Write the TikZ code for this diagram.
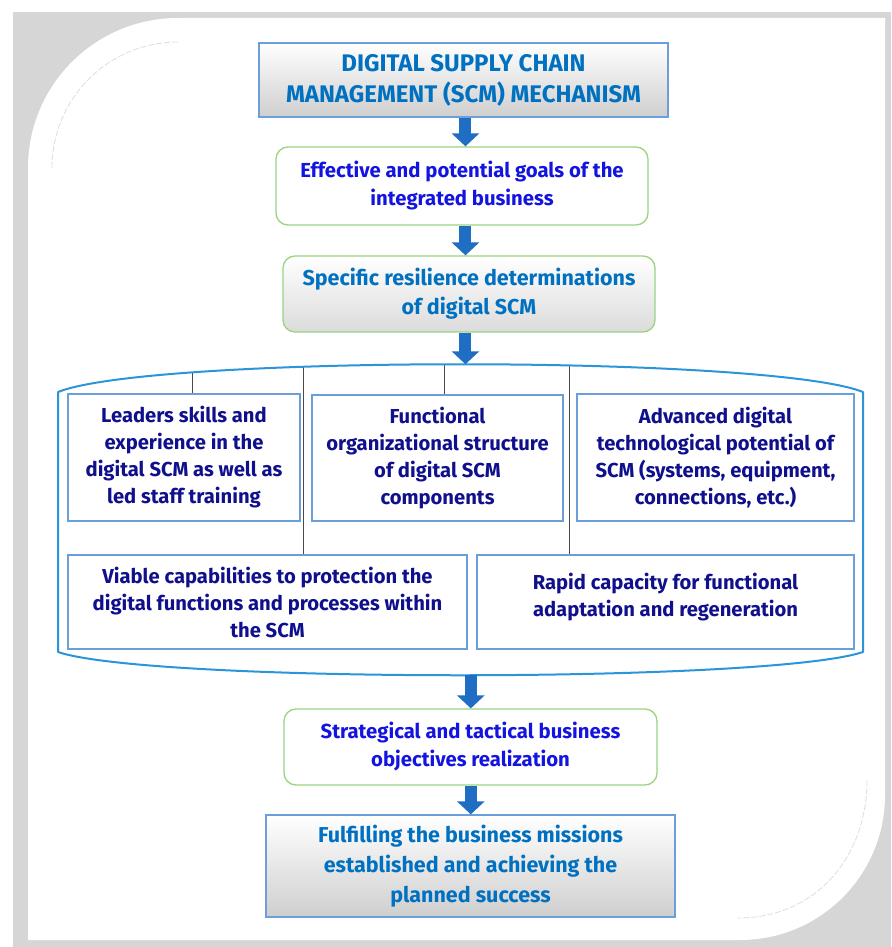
\documentclass[tikz,border=0pt]{standalone}
\usepackage{fontspec}
\setmainfont{Fira Sans}
\usetikzlibrary{arrows.meta}

\definecolor{titleblue}{HTML}{0070C0}
\definecolor{brightblue}{HTML}{1414E0}
\definecolor{navyink}{HTML}{10108C}
\definecolor{framegray}{HTML}{D6D6D6}
\definecolor{arcgray}{HTML}{DDDDDD}
\definecolor{boxedge}{HTML}{6A9FDB}
\definecolor{greenedge}{HTML}{9BD37E}
\definecolor{hullblue}{HTML}{2C94D8}
\definecolor{arrowblue}{HTML}{1F6EC3}
\definecolor{linkgray}{HTML}{4A4A4A}

\newcommand\headsize{\fontsize{24}{31}\selectfont}
\newcommand\stepsize{\fontsize{20.3}{28}\selectfont}
\newcommand\itemsize{\fontsize{20.2}{27}\selectfont}

\begin{document}
\begin{tikzpicture}[x=1pt,y=-1pt,
  every node/.style={inner sep=0pt, align=center, font=\bfseries},
  headbox/.style={draw=boxedge, line width=1.3pt, top color=white, bottom color=black!19,
                  text=titleblue, font=\bfseries\headsize},
  greenbox/.style={draw=greenedge, line width=1.3pt, rounded corners=12pt, fill=white,
                   text=brightblue, font=\bfseries\stepsize},
  greenshade/.style={greenbox, top color=white, bottom color=black!14, text=titleblue,
                     font=\bfseries\fontsize{21.5}{29}\selectfont},
  itembox/.style={draw=boxedge, line width=1.2pt, fill=white, text=navyink,
                  font=\bfseries\itemsize},
  bigarrow/.style={draw=arrowblue, line width=12pt, -{Triangle[length=13pt,width=27pt]}},
  link/.style={draw=linkgray, line width=1pt},
]
\useasboundingbox (0,0) rectangle (891,947);

% page frame: grey backing and white panel with two rounded corners
\fill[framegray] (13,12) rectangle (891,947);
\fill[white] (28,168) .. controls (28,85.2) and (95.2,18) .. (178,18)
  -- (885,18) -- (885,795)
  .. controls (885,875.1) and (820.1,940) .. (740,940)
  -- (28,940) -- cycle;
\draw[arcgray, line width=0.8pt, dash pattern=on 6pt off 2pt]
  (52,168) .. controls (52,98.4) and (108.4,42) .. (178,42);
\draw[arcgray, line width=0.8pt, dash pattern=on 6pt off 2pt]
  (867,780) .. controls (867,858) and (815,918) .. (738,918);

% top of the chain
\node[headbox, minimum width=409pt, minimum height=74pt] (head) at (463.5,80)
  {DIGITAL SUPPLY CHAIN\\MANAGEMENT (SCM) MECHANISM};
\node[greenbox, minimum width=372pt, minimum height=78pt] (goals) at (462,186)
  {Effective and potential goals of the\\integrated business};
\node[greenshade, minimum width=372pt, minimum height=76pt] (resil) at (469,294)
  {Specific resilience determinations\\of digital SCM};

% determinations hull
\path (58,392) .. controls (150,355) and (770,355) .. (863,392)
  coordinate[pos=0.23] (t1) coordinate[pos=0.35] (t2)
  coordinate[pos=0.485] (t3) coordinate[pos=0.603] (t4)
  coordinate[pos=0.505] (htop);
\path (863,652) .. controls (770,683) and (150,683) .. (58,652)
  coordinate[pos=0.49] (hbot);

\node[itembox, minimum width=232pt, minimum height=127pt] (lead) at (184,457.5)
  {Leaders skills and\\experience in the\\digital SCM as well as\\led staff training};
\node[itembox, minimum width=251pt, minimum height=126pt] (func) at (437.5,458)
  {Functional\\organizational structure\\of digital SCM\\components};
\node[itembox, minimum width=277pt, minimum height=127pt] (tech) at (715.5,457.5)
  {Advanced digital\\technological potential of\\SCM (systems, equipment,\\connections, etc.)};
\node[itembox, minimum width=399pt, minimum height=94pt] (prot) at (267.5,602)
  {Viable capabilities to protection the\\digital functions and processes within\\the SCM};
\node[itembox, minimum width=377pt, minimum height=94pt, text depth=14pt] (rapid) at (665.5,602)
  {Rapid capacity for functional\\adaptation and regeneration};

\draw[link] (t1) -- (t1 |- lead.north);
\draw[link] (t2) -- (t2 |- prot.north);
\draw[link] (t3) -- (t3 |- func.north);
\draw[link] (t4) -- (t4 |- rapid.north);

\draw[hullblue, line width=2pt, line join=round]
  (58,392) .. controls (150,355) and (770,355) .. (863,392)
  -- (863,652) .. controls (770,683) and (150,683) .. (58,652) -- cycle;

% bottom of the chain
\node[greenbox, minimum width=373pt, minimum height=76pt] (objs) at (470.5,747)
  {Strategical and tactical business\\objectives realization};
\node[headbox, minimum width=409pt, minimum height=102pt, font=\bfseries\fontsize{21.5}{30}\selectfont] (fulfil) at (470.5,866)
  {Fulfilling the business missions\\established and achieving the\\planned success};

% block arrows
\draw[bigarrow] (htop |- head.south) -- (htop |- goals.north);
\draw[bigarrow] (htop |- goals.south) -- (htop |- resil.north);
\draw[bigarrow] (htop |- resil.south) -- (htop);
\draw[bigarrow] (hbot) -- (hbot |- objs.north);
\draw[bigarrow] (hbot |- objs.south) -- (hbot |- fulfil.north);
\end{tikzpicture}
\end{document}
